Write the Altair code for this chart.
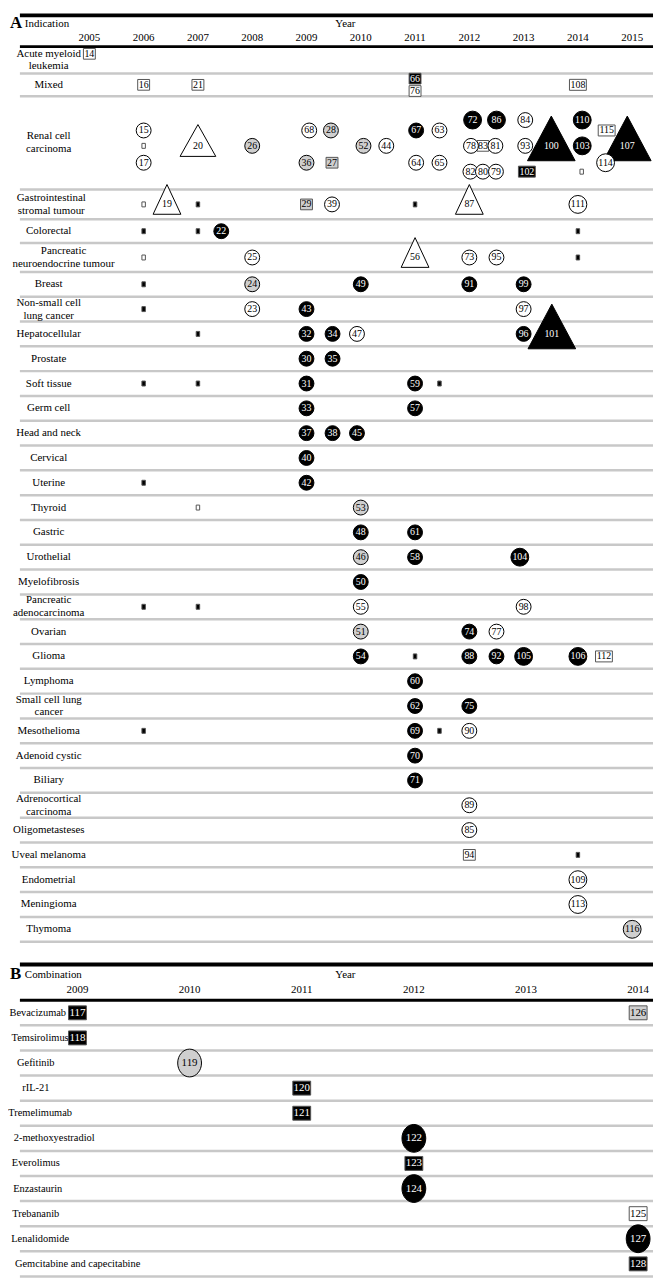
import altair as alt
import pandas as pd

FONT = "Liberation Serif"

# ---------------- Panel A data ----------------
INDICATIONS = [
    "Acute myeloid\nleukemia", "Mixed", "Renal cell\ncarcinoma",
    "Gastrointestinal\nstromal tumour", "Colorectal",
    "Pancreatic\nneuroendocrine tumour", "Breast", "Non-small cell\nlung cancer",
    "Hepatocellular", "Prostate", "Soft tissue", "Germ cell", "Head and neck",
    "Cervical", "Uterine", "Thyroid", "Gastric", "Urothelial", "Myelofibrosis",
    "Pancreatic\nadenocarcinoma", "Ovarian", "Glioma", "Lymphoma",
    "Small cell lung\ncancer", "Mesothelioma", "Adenoid cystic", "Biliary",
    "Adrenocortical\ncarcinoma", "Oligometasteses", "Uveal melanoma",
    "Endometrial", "Meningioma", "Thymoma",
]
A_YEARS = [2005, 2006, 2007, 2008, 2009, 2010, 2011, 2012, 2013, 2014, 2015]

A_ID = [
    "14",
    "16", "21", "66", "76", "108",
    "15", "", "17", "20", "26", "68", "28", "36", "27", "52", "44", "67", "63", "64", "65",
    "72", "86", "84", "78", "83", "81", "93", "100", "82", "80", "79", "102", "110", "103", "",
    "115", "107", "114",
    "", "19", "", "29", "39", "", "87", "111",
    "", "", "22", "",
    "", "25", "56", "73", "95", "",
    "", "24", "49", "91", "99",
    "", "23", "43", "97",
    "", "32", "34", "47", "96", "101",
    "30", "35",
    "", "", "31", "59", "",
    "33", "57",
    "37", "38", "45",
    "40",
    "", "42",
    "", "53",
    "48", "61",
    "46", "58", "104",
    "50",
    "", "", "55", "98",
    "51", "74", "77",
    "54", "", "88", "92", "105", "106", "112",
    "60",
    "62", "75",
    "", "69", "", "90",
    "70",
    "71",
    "89",
    "85",
    "94", "",
    "109",
    "113",
    "116",
]
A_ROW = [
    0,
    1, 1, 1, 1, 1,
    2, 2, 2, 2, 2, 2, 2, 2, 2, 2, 2, 2, 2, 2, 2,
    2, 2, 2, 2, 2, 2, 2, 2, 2, 2, 2, 2, 2, 2, 2,
    2, 2, 2,
    3, 3, 3, 3, 3, 3, 3, 3,
    4, 4, 4, 4,
    5, 5, 5, 5, 5, 5,
    6, 6, 6, 6, 6,
    7, 7, 7, 7,
    8, 8, 8, 8, 8, 8,
    9, 9,
    10, 10, 10, 10, 10,
    11, 11,
    12, 12, 12,
    13,
    14, 14,
    15, 15,
    16, 16,
    17, 17, 17,
    18,
    19, 19, 19, 19,
    20, 20, 20,
    21, 21, 21, 21, 21, 21, 21,
    22,
    23, 23,
    24, 24, 24, 24,
    25,
    26,
    27,
    28,
    29, 29,
    30,
    31,
    32,
]
A_YEAR = [
    2005.0,
    2006.0, 2007.0, 2011.0, 2011.0, 2014.0,
    2006.0, 2006.0, 2006.0, 2007.0, 2008.0, 2009.05, 2009.45, 2009.0, 2009.47, 2010.05, 2010.47,
    2011.02, 2011.45, 2011.02, 2011.45,
    2012.06, 2012.5, 2013.03, 2012.03, 2012.25, 2012.48, 2013.03, 2013.51, 2012.02, 2012.25,
    2012.49, 2013.06, 2014.08, 2014.08, 2014.07,
    2014.53, 2014.91, 2014.51,
    2006.0, 2006.43, 2007.0, 2009.0, 2009.47, 2011.0, 2012.0, 2014.0,
    2006.0, 2007.0, 2007.43, 2014.0,
    2006.0, 2008.0, 2011.0, 2012.0, 2012.5, 2014.0,
    2006.0, 2008.0, 2010.0, 2012.0, 2013.0,
    2006.0, 2008.0, 2009.0, 2013.0,
    2007.0, 2009.0, 2009.48, 2009.93, 2013.0, 2013.52,
    2009.0, 2009.48,
    2006.0, 2007.0, 2009.0, 2011.0, 2011.45,
    2009.0, 2011.0,
    2009.0, 2009.48, 2009.93,
    2009.0,
    2006.0, 2009.0,
    2007.0, 2010.0,
    2010.0, 2011.0,
    2010.0, 2011.0, 2012.93,
    2010.0,
    2006.0, 2007.0, 2010.0, 2013.0,
    2010.0, 2012.0, 2012.5,
    2010.0, 2011.0, 2012.0, 2012.5, 2013.0, 2014.0, 2014.48,
    2011.0,
    2011.0, 2012.0,
    2006.0, 2011.0, 2011.45, 2012.0,
    2011.0,
    2011.0,
    2012.0,
    2012.0,
    2012.0, 2014.0,
    2014.0,
    2014.0,
    2015.0,
]
# kinds: c circle, C larger circle, b2/b3 labelled box, d small square,
#        t / T open triangle, K filled triangle
A_KIND = [
    "b2",
    "b2", "b2", "b2", "b2", "b3",
    "c", "d", "c", "T", "c", "c", "c", "c", "b2", "c", "c", "c", "c", "c", "c",
    "C", "C", "c", "c", "b2", "c", "c", "K", "c", "c", "c", "b3", "C", "C", "d",
    "b3", "K", "C",
    "d", "t", "d", "b2", "c", "d", "t", "C",
    "d", "d", "c", "d",
    "d", "c", "t", "c", "c", "d",
    "d", "c", "c", "c", "c",
    "d", "c", "c", "c",
    "d", "c", "c", "c", "c", "K",
    "c", "c",
    "d", "d", "c", "c", "d",
    "c", "c",
    "c", "c", "c",
    "c",
    "d", "c",
    "d", "c",
    "c", "c",
    "c", "c", "C",
    "c",
    "d", "d", "c", "c",
    "c", "c", "c",
    "c", "d", "c", "c", "C", "C", "b3",
    "c",
    "c", "c",
    "d", "c", "d", "c",
    "c",
    "c",
    "c",
    "c",
    "b2", "d",
    "C",
    "C",
    "C",
]
# status: F filled (black), S shaded (grey), O open (white)
A_STATUS = [
    "O",
    "O", "O", "F", "O", "O",
    "O", "O", "O", "O", "S", "O", "S", "S", "S", "S", "O", "F", "O", "O", "O",
    "F", "F", "O", "O", "O", "O", "O", "F", "O", "O", "O", "F", "F", "F", "O",
    "O", "F", "O",
    "O", "O", "F", "S", "O", "F", "O", "O",
    "F", "F", "F", "F",
    "O", "O", "O", "O", "O", "F",
    "F", "S", "F", "F", "F",
    "F", "O", "F", "O",
    "F", "F", "F", "O", "F", "F",
    "F", "F",
    "F", "F", "F", "F", "F",
    "F", "F",
    "F", "F", "F",
    "F",
    "F", "F",
    "O", "S",
    "F", "F",
    "S", "F", "F",
    "F",
    "F", "F", "O", "O",
    "S", "F", "O",
    "F", "F", "F", "F", "F", "F", "O",
    "F",
    "F", "F",
    "F", "F", "F", "O",
    "F",
    "F",
    "O",
    "O",
    "O", "F",
    "O",
    "O",
    "S",
]
# sub-row (lane) of the first three indications' items; others sit on the row centre
A_LANE = [
    "hi",
    "", "", "hi", "lo", "",
    "u", "m", "l", "m", "m", "u", "u", "l", "l", "m", "m", "u", "u", "l", "l",
    "t", "t", "t", "m", "m", "m", "m", "m", "b", "b", "b", "b", "t", "m", "b",
    "u", "m", "l",
]

# ---------------- Panel B data ----------------
COMBINATIONS = [
    "Bevacizumab", "Temsirolimus", "Gefitinib", "rIL-21", "Tremelimumab",
    "2-methoxyestradiol", "Everolimus", "Enzastaurin", "Trebananib",
    "Lenalidomide", "Gemcitabine and capecitabine",
]
B_YEARS = [2009, 2010, 2011, 2012, 2013, 2014]
B_ID = ["117", "126", "118", "119", "120", "121", "122", "123", "124", "125", "127", "128"]
B_ROW = [0, 0, 1, 2, 3, 4, 5, 6, 7, 8, 9, 10]
B_YEAR = [2009.0, 2014.0, 2009.0, 2010.0, 2011.0, 2011.0, 2012.0, 2012.0, 2012.0, 2014.0, 2014.0, 2014.0]
B_KIND = ["bB", "bB", "bB", "E", "bB", "bB", "E", "bB", "E", "bB", "E", "bB"]
B_STATUS = ["F", "S", "F", "S", "F", "F", "F", "F", "F", "O", "F", "F"]

# ---------------- layout / style ----------------
W = 647
A_ROW_UNITS = [1.08, 0.92, 3.76, 1.2, 0.96, 1.16] + [1.0] * 27
B_ROW_UNITS = [1.0] * 11
LANE_OFFSET = {"": 0.0, "hi": -0.25, "lo": 0.25, "t": -0.92, "u": -0.5,
               "m": 0.12, "l": 0.8, "b": 1.16}

KINDS = ["c", "C", "E", "b2", "b3", "bB", "d", "t", "T", "K"]
SHAPES = {
    "c": "circle",
    "C": "circle",
    "E": "M-0.857,0A0.857,1 0 1,0 0.857,0A0.857,1 0 1,0 -0.857,0Z",
    "b2": "M-1,-0.9L1,-0.9L1,0.9L-1,0.9Z",
    "b3": "M-1,-0.65L1,-0.65L1,0.65L-1,0.65Z",
    "bB": "M-1,-0.78L1,-0.78L1,0.78L-1,0.78Z",
    "d": "M-0.7,-1L0.7,-1L0.7,1L-0.7,1Z",
    "t": "M0,-1.43L1,0.71L-1,0.71Z",
    "T": "M0,-1.19L1,0.59L-1,0.59Z",
    "K": "M0,-1.25L1,0.625L-1,0.625Z",
}
SIZES = {"c": 225, "C": 324, "E": 784, "b2": 144, "b3": 289, "bB": 324,
         "d": 25, "t": 784, "T": 1296, "K": 2304}
shape_scale = alt.Scale(domain=KINDS, range=[SHAPES[k] for k in KINDS])
size_scale = alt.Scale(type="ordinal", domain=KINDS, range=[SIZES[k] for k in KINDS])
fill_scale = alt.Scale(domain=["F", "S", "O"], range=["#000000", "#cfcfcf", "#ffffff"])
LINE_H = 13


def label_x(name, base, fs):
    longest = max(len(s) for s in name.split("\n"))
    return max(base, longest * 0.45 * fs / 2 + 1)


def panel(letter, col_title, names, row_units, ids, rows, years, kinds, status,
          lanes, year_ticks, x_domain, unit, bar_y, text_y, tick_y, head_h,
          label_base, label_fs, num_fs):
    tops, acc = [], 0.0
    for u in row_units:
        tops.append(acc)
        acc += u
    total = acc
    centers = [t + u / 2 for t, u in zip(tops, row_units)]
    bottoms = [t + u for t, u in zip(tops, row_units)]
    height = head_h + total * unit

    xs = alt.Scale(domain=x_domain, nice=False, zero=False)
    ys = alt.Scale(domain=[0, total], range=[head_h, height], nice=False, zero=False)

    recs = []
    for i in range(len(ids)):
        lane = lanes[i] if i < len(lanes) else ""
        recs.append(dict(id=ids[i], year=years[i], y=centers[rows[i]] + LANE_OFFSET[lane],
                         kind=kinds[i], status=status[i]))
    items = pd.DataFrame(recs)
    label_y = [c - (n.count("\n")) * (LINE_H / 2) / unit for c, n in zip(centers, names)]
    labels = pd.DataFrame({"name": names, "y": label_y,
                           "lx": [label_x(n, label_base, label_fs) for n in names]})
    seps = pd.DataFrame({"y": bottoms})
    ticks = pd.DataFrame({"year": year_ticks, "label": [str(y) for y in year_ticks]})
    one = pd.DataFrame({"k": [0]})

    X = alt.X("year:Q", scale=xs, axis=None)
    Y = alt.Y("y:Q", scale=ys, axis=None)

    sep_layer = alt.Chart(seps).mark_rule(color="#c8c8c8", strokeWidth=2.5).encode(
        y=Y, x=alt.value(9), x2=alt.value(W))
    top_bar = alt.Chart(one).mark_rule(color="black", strokeWidth=4).encode(
        y=alt.value(bar_y), x=alt.value(9), x2=alt.value(W))
    head_line = alt.Chart(one).mark_rule(color="black", strokeWidth=3).encode(
        y=alt.value(head_h), x=alt.value(9), x2=alt.value(W))
    letter_t = alt.Chart(one).mark_text(text=letter, font=FONT, fontSize=17, fontWeight="bold",
                                        align="left", baseline="middle").encode(
        x=alt.value(-1), y=alt.value(text_y - 1))
    col_t = alt.Chart(one).mark_text(text=col_title, font=FONT, fontSize=11,
                                     align="left", baseline="middle").encode(
        x=alt.value(14), y=alt.value(text_y))
    year_t = alt.Chart(one).mark_text(text="Year", font=FONT, fontSize=11,
                                      align="center", baseline="middle").encode(
        x=alt.value(337), y=alt.value(text_y))
    tick_t = alt.Chart(ticks).mark_text(font=FONT, fontSize=11, baseline="middle").encode(
        x=X, y=alt.value(tick_y), text="label:N")
    row_t = alt.Chart(labels).mark_text(font=FONT, fontSize=label_fs, baseline="middle",
                                        align="center", lineBreak="\n",
                                        lineHeight=LINE_H).encode(
        x=alt.X("lx:Q", scale=None, axis=None), y=Y, text="name:N")

    def pts(subset, stroke):
        return alt.Chart(items).transform_filter(
            alt.FieldOneOfPredicate(field="kind", oneOf=subset)
        ).mark_point(filled=True, opacity=1, stroke=stroke, strokeWidth=1).encode(
            x=X, y=Y,
            shape=alt.Shape("kind:N", scale=shape_scale, legend=None),
            size=alt.Size("kind:N", scale=size_scale, legend=None),
            fill=alt.Fill("status:N", scale=fill_scale, legend=None),
        )

    boxes = pts(["b2", "b3", "bB", "d"], "#555555")
    tris = pts(["t", "T", "K"], "black")
    circs = pts(["c", "C", "E"], "black")

    num_white = alt.Chart(items).transform_filter(
        (alt.datum.id != "") & (alt.datum.status == "F")
    ).mark_text(font=FONT, fontSize=num_fs, color="white", baseline="middle").encode(
        x=X, y=Y, text="id:N")
    num_black = alt.Chart(items).transform_filter(
        (alt.datum.id != "") & (alt.datum.status != "F")
    ).mark_text(font=FONT, fontSize=num_fs, color="black", baseline="middle").encode(
        x=X, y=Y, text="id:N")

    return alt.layer(
        sep_layer, top_bar, head_line, letter_t, col_t, year_t, tick_t, row_t,
        boxes, tris, circs, num_white, num_black
    ).properties(width=W, height=height)


A_X_DOMAIN = [2003.5558, 2015.3839]
B_X_DOMAIN = [2008.4071, 2014.1327]

chart_a = panel("A", "Indication", INDICATIONS, A_ROW_UNITS, A_ID, A_ROW, A_YEAR, A_KIND,
                A_STATUS, A_LANE, A_YEARS, A_X_DOMAIN, 25.0, 1.5, 10, 24, 33, 38, 11, 10)
chart_b = panel("B", "Combination", COMBINATIONS, B_ROW_UNITS, B_ID, B_ROW, B_YEAR, B_KIND,
                B_STATUS, [], B_YEARS, B_X_DOMAIN, 25.3, 2, 13, 28, 38, 25, 10.5, 11)

chart = alt.vconcat(
    chart_a, chart_b, spacing=19,
    padding={"left": 0, "top": 0, "right": 0, "bottom": 0},
).configure_view(stroke=None)

chart.save("out.html", embed_options={"renderer": "svg", "actions": False})
